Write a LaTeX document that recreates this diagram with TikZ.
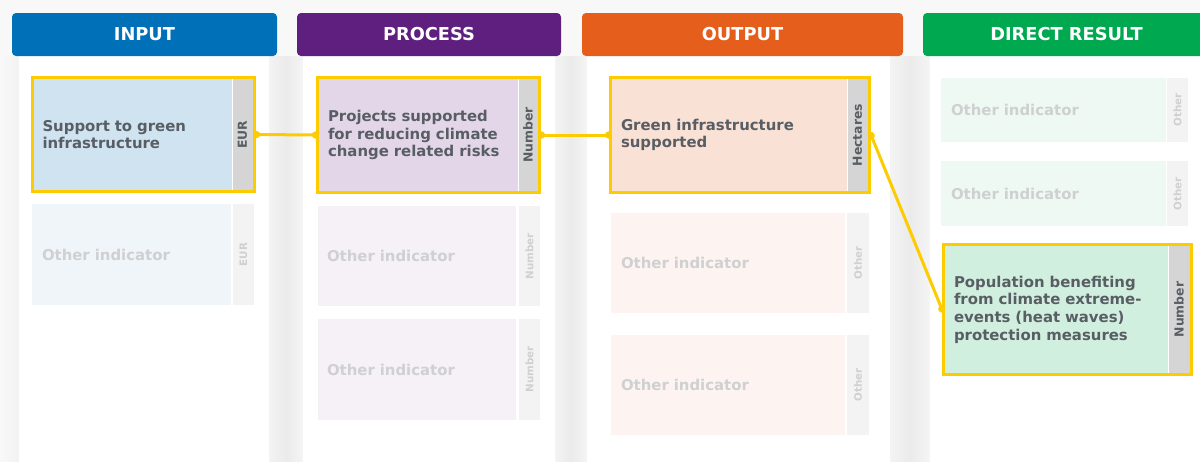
\documentclass[tikz,border=0pt]{standalone}
\usepackage{fontspec}
\setmainfont{DejaVu Sans}
\usepackage{xcolor}
\usetikzlibrary{arrows.meta}

\definecolor{hilite}{HTML}{FCCC00}
\definecolor{inputblue}{HTML}{0070B8}
\definecolor{processpurple}{HTML}{5E1F7E}
\definecolor{outputorange}{HTML}{E55E1B}
\definecolor{resultgreen}{HTML}{00A84F}
\definecolor{inputmain}{HTML}{CFE3F1}
\definecolor{inputfaded}{HTML}{F0F5FA}
\definecolor{processmain}{HTML}{E3D6E9}
\definecolor{processfaded}{HTML}{F5F1F7}
\definecolor{outputmain}{HTML}{FAE1D5}
\definecolor{outputfaded}{HTML}{FDF4F1}
\definecolor{resultmain}{HTML}{D1EFDF}
\definecolor{resultfaded}{HTML}{EFF9F3}
\definecolor{textdark}{HTML}{585E64}
\definecolor{textfaded}{HTML}{CFD0D1}
\definecolor{unitmain}{HTML}{D5D5D5}
\definecolor{unitfaded}{HTML}{F3F3F3}
\definecolor{pagegray}{HTML}{F8F8F8}

\tikzset{
  header/.style={fill=#1, rounded corners=4pt, text=white, inner sep=0pt, minimum height=43,
    font=\bfseries\fontsize{17.8}{20}\selectfont},
  mainbox/.style={draw=hilite, line width=3pt, fill=#1, inner sep=0pt, align=left, text=textdark,
    font=\bfseries\fontsize{14.9}{17.7}\selectfont},
  fadedbox/.style={fill=#1, inner sep=0pt, align=left, text=textfaded,
    font=\bfseries\fontsize{14.9}{17.7}\selectfont},
  mainunit/.style={fill=unitmain, inner sep=0pt, text=textdark,
    font=\bfseries\fontsize{12.4}{14}\selectfont,
    path picture={\draw[white, line width=2pt] (path picture bounding box.north west) -- (path picture bounding box.south west);}},
  fadedunit/.style={fill=unitfaded, inner sep=0pt, text=textfaded,
    font=\bfseries\fontsize{10.3}{12}\selectfont},
  gapshade/.style={left color=gray!9, right color=gray!8, middle color=gray!16},
  link/.style={hilite, line width=3pt, {Circle[length=7pt]}-{Circle[length=7pt]},
    shorten <=-3pt, shorten >=-3pt}
}

\begin{document}
\begin{tikzpicture}[x=1pt,y=-1pt]
  \useasboundingbox (0,0) rectangle (1200,461);

  % Page and column panels
  \fill[pagegray] (0,0) rectangle (1200,461);
  \shade[left color=gray!5, right color=gray!10] (0,56) rectangle (19,461);
  \shade[gapshade] (269,56) rectangle (303,461);
  \shade[gapshade] (555,56) rectangle (587,461);
  \shade[gapshade] (890,56) rectangle (930,461);
  \fill[white] (19,50) rectangle (269,461);
  \fill[white] (303,50) rectangle (555,461);
  \fill[white] (587,50) rectangle (890,461);
  \fill[white] (930,50) rectangle (1200,461);

  % Headers
  \node[header=inputblue, minimum width=265] (inhead) at (144.5,34.5) {INPUT};
  \node[header=processpurple, minimum width=264] (prochead) at (429,34.5) {PROCESS};
  \node[header=outputorange, minimum width=321] (outhead) at (742.5,34.5) {OUTPUT};
  \node[header=resultgreen, minimum width=287] (reshead) at (1066.5,34.5) {DIRECT RESULT};

  % Input column
  \node[mainbox=inputmain, minimum width=222, minimum height=114, text width=202pt] (inbox) at (143.5,134.5) {Support to green\\infrastructure};
  \node[mainunit, minimum width=21, minimum height=111] (inunit) at (242.5,134.5) {\rotatebox{90}{EUR}};
  \node[fadedbox=inputfaded, minimum width=199, minimum height=101, text width=179pt] (inother) at (131.5,254.5) {Other indicator};
  \node[fadedunit, minimum width=21, minimum height=101] (inotherunit) at (243.5,254.5) {\rotatebox{90}{EUR}};

  % Process column
  \node[mainbox=processmain, minimum width=222, minimum height=115, text width=201pt] (procbox) at (428.5,135) {Projects supported\\for reducing climate\\change related risks};
  \node[mainunit, minimum width=20, minimum height=112] (procunit) at (528,135) {\rotatebox{90}{Number}};
  \node[fadedbox=processfaded, minimum width=198, minimum height=100, text width=180pt] (procothera) at (417,256) {Other indicator};
  \node[fadedunit, minimum width=21, minimum height=100] (procotheraunit) at (529.5,256) {\rotatebox{90}{Number}};
  \node[fadedbox=processfaded, minimum width=198, minimum height=101, text width=180pt] (procotherb) at (417,369.5) {Other indicator};
  \node[fadedunit, minimum width=21, minimum height=101] (procotherbunit) at (529.5,369.5) {\rotatebox{90}{Number}};

  % Output column
  \node[mainbox=outputmain, minimum width=259, minimum height=115, text width=238pt] (outbox) at (740,135) {Green infrastructure\\supported};
  \node[mainunit, minimum width=21, minimum height=112] (outunit) at (857.5,135) {\rotatebox{90}{Hectares}};
  \node[fadedbox=outputfaded, minimum width=234, minimum height=100, text width=214pt] (outothera) at (728,263) {Other indicator};
  \node[fadedunit, minimum width=22, minimum height=100] (outotheraunit) at (858,263) {\rotatebox{90}{Other}};
  \node[fadedbox=outputfaded, minimum width=234, minimum height=100, text width=214pt] (outotherb) at (728,385) {Other indicator};
  \node[fadedunit, minimum width=22, minimum height=100] (outotherbunit) at (858,385) {\rotatebox{90}{Other}};

  % Direct result column
  \node[fadedbox=resultfaded, minimum width=225, minimum height=64, text width=205pt] (resothera) at (1053.5,110) {Other indicator};
  \node[fadedunit, minimum width=21, minimum height=64] (resotheraunit) at (1177.5,110) {\rotatebox{90}{Other}};
  \node[fadedbox=resultfaded, minimum width=225, minimum height=65, text width=205pt] (resotherb) at (1053.5,193.5) {Other indicator};
  \node[fadedunit, minimum width=21, minimum height=65] (resotherbunit) at (1177.5,193.5) {\rotatebox{90}{Other}};
  \node[mainbox=resultmain, minimum width=248, minimum height=130, text width=227pt] (resbox) at (1067.5,309.5) {Population benefiting\\from climate extreme-\\events (heat waves)\\protection measures};
  \node[mainunit, minimum width=22, minimum height=127] (resunit) at (1179,309.5) {\rotatebox{90}{Number}};

  % Links between the chosen indicators
  \draw[link] (inbox.east) -- (procbox.west);
  \draw[link] (procbox.east) -- (outbox.west);
  \draw[link] (outbox.east) -- (resbox.west);

\end{tikzpicture}
\end{document}
